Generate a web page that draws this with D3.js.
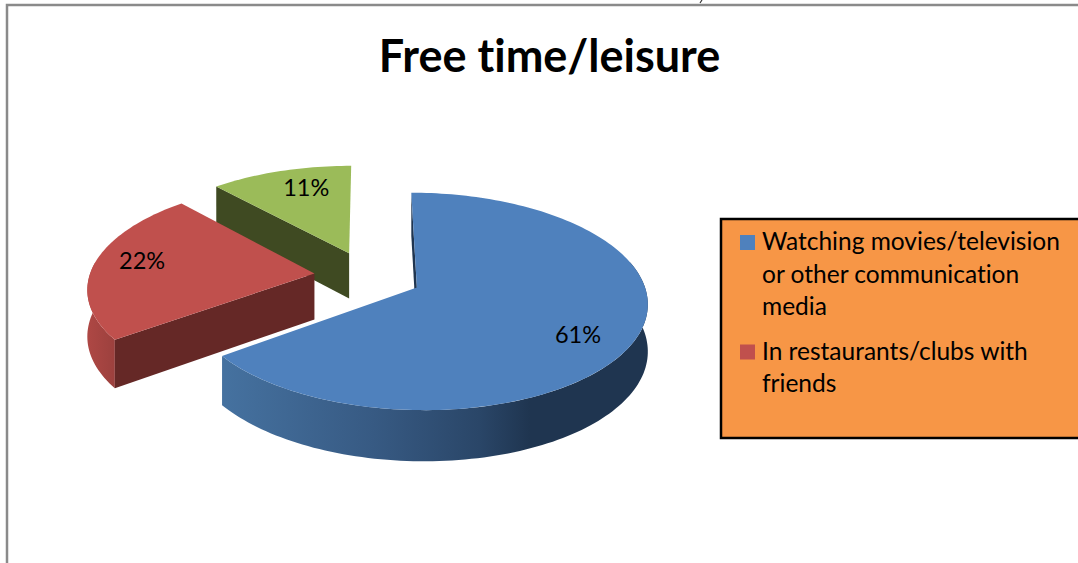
<!DOCTYPE html>
<html>
<head>
<meta charset="utf-8">
<script src="https://cdnjs.cloudflare.com/ajax/libs/d3/7.8.5/d3.min.js"></script>
<style>
  html, body { margin: 0; padding: 0; background: #fff; overflow: hidden; }
  text { font-family: Lato, "Open Sans", sans-serif; fill: #000; font-variant-ligatures: none; }
</style>
</head>
<body>
<div id="chart"></div>
<script>
var title = "Free time/leisure";
var values = [61, 22, 11];
var valueLabels = ["61%", "22%", "11%"];
var sliceColors = ["#4f81bd", "#c0504d", "#9bbb59"];
var legendLines = [
    ["Watching movies/television", "or other communication", "media"],
    ["In restaurants/clubs with", "friends"]
];

var width = 1078, height = 563;

var svg = d3.select("#chart").append("svg")
    .attr("width", width)
    .attr("height", height)
    .style("display", "block");

// frame of the chart, cut by the edge of the picture
svg.append("path")
    .attr("d", "M7,563V5H1078")
    .attr("fill", "none")
    .attr("stroke", "#8a8a8a")
    .attr("stroke-width", 2.5);

// bit of a stroke left over from the page above the chart
svg.append("path")
    .attr("d", "M702,0L700,3")
    .attr("fill", "none")
    .attr("stroke", "#333")
    .attr("stroke-width", 1.2);

svg.append("text")
    .attr("x", 549.5)
    .attr("y", 72)
    .attr("text-anchor", "middle")
    .attr("font-size", 45)
    .attr("font-weight", 700)
    .text(title);

// 3d look: ground plane of the pie seen in perspective
var cx = 368, cy = 276, sx = 225, sy = 104, persp = 0.127, depth = 46, explode = 0.24;

function project(x, y) {
    var s = 1 / (1 - persp * y);
    return [cx + sx * x * s, cy + sy * y * s, s];
}

var arcs = d3.pie().sort(null)(values);

arcs.forEach(function(d) {
    var mid = (d.startAngle + d.endAngle) / 2;
    d.dirx = Math.sin(mid);
    d.diry = -Math.cos(mid);
    d.ox = explode * d.dirx;
    d.oy = explode * d.diry;
});

function topPoint(d, r, a) {
    return project(d.ox + r * Math.sin(a), d.oy - r * Math.cos(a));
}
function lowPoint(p) {
    return [p[0], p[1] + depth * Math.pow(p[2], 0.7)];
}
function rim(d, a0, a1) {
    var n = Math.max(2, Math.ceil(Math.abs(a1 - a0) * 40));
    return d3.range(n + 1).map(function(i) {
        return topPoint(d, 1, a0 + (a1 - a0) * i / n);
    });
}

var line = d3.line().x(function(p) { return p[0]; }).y(function(p) { return p[1]; });

var blueWall = svg.append("defs").append("linearGradient")
    .attr("id", "blueWall")
    .attr("gradientUnits", "userSpaceOnUse")
    .attr("x1", 226).attr("x2", 648).attr("y1", 0).attr("y2", 0);
blueWall.selectAll("stop")
    .data([[0, "#45719f"], [0.35, "#375a83"], [0.6, "#2a4668"], [0.72, "#1f3550"], [1, "#1f3550"]])
    .enter().append("stop")
    .attr("offset", function(d) { return d[0]; })
    .attr("stop-color", function(d) { return d[1]; });

var redWall = svg.select("defs").append("linearGradient")
    .attr("id", "redWall")
    .attr("gradientUnits", "userSpaceOnUse")
    .attr("x1", 89).attr("x2", 118).attr("y1", 0).attr("y2", 0);
redWall.append("stop").attr("offset", 0).attr("stop-color", "#ad4744");
redWall.append("stop").attr("offset", 1).attr("stop-color", "#9a403d");

function wallPath(points) {
    return line(points.concat(points.slice().reverse().map(lowPoint))) + "Z";
}

// back to front: green, red, blue
var green = arcs[2], red = arcs[1], blue = arcs[0];

function drawRadialWall(d, a, color) {
    svg.append("path")
        .attr("d", wallPath([topPoint(d, 0, a), topPoint(d, 1, a)]))
        .attr("fill", color);
}
function drawTop(d, color) {
    var pts = [topPoint(d, 0, d.startAngle)].concat(rim(d, d.startAngle, d.endAngle));
    svg.append("path")
        .attr("d", line(pts) + "Z")
        .attr("fill", color);
}

drawRadialWall(green, green.startAngle, "#3f4a22");
drawTop(green, sliceColors[2]);

svg.append("path")
    .attr("d", wallPath(rim(red, red.startAngle, red.startAngle + 0.75)))
    .attr("fill", "url(#redWall)");
drawRadialWall(red, red.startAngle, "#652826");
drawTop(red, sliceColors[1]);

drawRadialWall(blue, blue.startAngle, "#1f3550");
svg.append("path")
    .attr("d", wallPath(rim(blue, Math.PI * 0.42, blue.endAngle)))
    .attr("fill", "url(#blueWall)");
drawTop(blue, sliceColors[0]);

// value labels sit at a share of the radius along the middle of the slice, then a small nudge
var labelShare = [0.72, 0.75, 0.72];
var labelNudge = [[6, 11], [-7, -5], [8, -4]];
svg.selectAll("text.value")
    .data(arcs)
    .enter().append("text")
    .attr("class", "value")
    .attr("text-anchor", "middle")
    .attr("font-size", 23.5)
    .attr("x", function(d, i) {
        return project(d.ox + labelShare[i] * d.dirx, d.oy + labelShare[i] * d.diry)[0] + labelNudge[i][0];
    })
    .attr("y", function(d, i) {
        return project(d.ox + labelShare[i] * d.dirx, d.oy + labelShare[i] * d.diry)[1] + 8 + labelNudge[i][1];
    })
    .text(function(d, i) { return valueLabels[i]; });

// legend box runs past the right edge, third entry does not fit
var legend = svg.append("g");
legend.append("rect")
    .attr("x", 721).attr("y", 219)
    .attr("width", 400).attr("height", 219)
    .attr("fill", "#f79646")
    .attr("stroke", "#000")
    .attr("stroke-width", 2.5);

var lineY = 250;
legendLines.forEach(function(lines, i) {
    legend.append("rect")
        .attr("x", 740).attr("y", lineY - 15)
        .attr("width", 15).attr("height", 15)
        .attr("fill", sliceColors[i]);
    lines.forEach(function(t, j) {
        legend.append("text")
            .attr("x", 762)
            .attr("y", lineY + j * 32.5)
            .attr("font-size", 24.5)
            .text(t);
    });
    lineY += lines.length * 32.5 + 12;
});
</script>
</body>
</html>
